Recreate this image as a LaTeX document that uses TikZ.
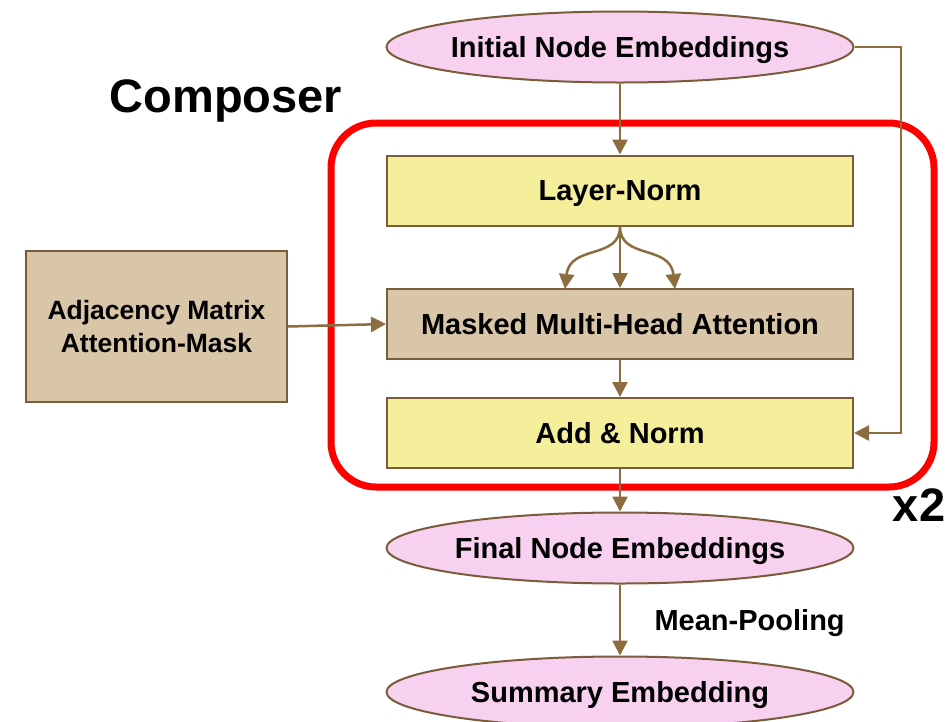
\documentclass[tikz,border=0pt]{standalone}
\usepackage{fontspec}
\setmainfont{Liberation Sans}
\usetikzlibrary{arrows.meta,shapes.geometric}

\definecolor{edgebrown}{HTML}{7A5C3A}
\definecolor{flowbrown}{HTML}{8C6D3F}
\definecolor{pinkfill}{HTML}{F8D0F0}
\definecolor{yellowfill}{HTML}{F5EE9A}
\definecolor{tanfill}{HTML}{D9C5A8}

\tikzset{
  labelfont/.style={font=\fontsize{29}{34}\selectfont\bfseries},
  embed/.style={ellipse, draw=edgebrown, line width=2pt, fill=pinkfill,
    minimum width=467pt, minimum height=71pt, inner xsep=-25pt, inner ysep=0pt,
    text depth=0pt, labelfont},
  normbox/.style={rectangle, draw=edgebrown, line width=2pt, fill=yellowfill,
    minimum width=466pt, minimum height=70pt, inner sep=0pt,
    text depth=0pt, labelfont},
  attnbox/.style={normbox, fill=tanfill},
  flow/.style={draw=flowbrown, line width=2.5pt,
    -{Triangle[length=15pt,width=15pt]}},
  bigtitle/.style={font=\fontsize{47}{52}\selectfont\bfseries, inner sep=0pt}
}

\begin{document}
\begin{tikzpicture}[x=1pt,y=-1pt]
  \useasboundingbox[fill=white] (0,0) rectangle (948,721);

  % repeated block frame
  \node (stack) [rectangle, draw=red, line width=7pt, rounded corners=45pt,
    minimum width=603pt, minimum height=364pt] at (632.5,305) {};
  \node (composer) [bigtitle, anchor=center] at (226,101) {Composer};
  \node (times) [bigtitle, anchor=center] at (919,505) {x2};

  % main nodes
  \node (init) [embed] at (620,47) {Initial Node Embeddings};
  \node (lnorm) [normbox] at (620,190.5) {Layer-Norm};
  \node (mha) [attnbox] at (620,324) {Masked Multi-Head Attention};
  \node (addnorm) [normbox] at (620,433) {Add \& Norm};
  \node (final) [embed] at (620,548) {Final Node Embeddings};
  \node (summary) [embed] at (620,692) {Summary Embedding};
  \node (adj) [attnbox, minimum width=261pt, minimum height=151pt, align=center,
    text depth=, font=\fontsize{26.5}{33}\selectfont\bfseries] at (156.5,326.5)
    {Adjacency Matrix\\Attention-Mask};

  % connectors
  \coordinate (skip) at (901,0);
  \coordinate (headL) at (565,289);
  \coordinate (headR) at (675,289);

  \draw[flow] (init.south) -- (lnorm.north);
  \draw[flow] (lnorm.south) -- (mha.north);
  \draw[flow] (lnorm.south) .. controls (620,260) and (570,244) .. (headL);
  \draw[flow] (lnorm.south) .. controls (620,260) and (670,244) .. (headR);
  \draw[flow] (mha.south) -- (addnorm.north);
  \draw[flow] (adj.east) -- (mha.west);
  \draw[flow] (init.east) -- (init.east -| skip) -- (addnorm.east -| skip) -- (addnorm.east);
  \draw[flow] (addnorm.south) -- (final.north);
  \draw[flow] (final.south) -- node[right=30pt, yshift=-3pt, labelfont] (pool) {Mean-Pooling} (summary.north);
\end{tikzpicture}
\end{document}
